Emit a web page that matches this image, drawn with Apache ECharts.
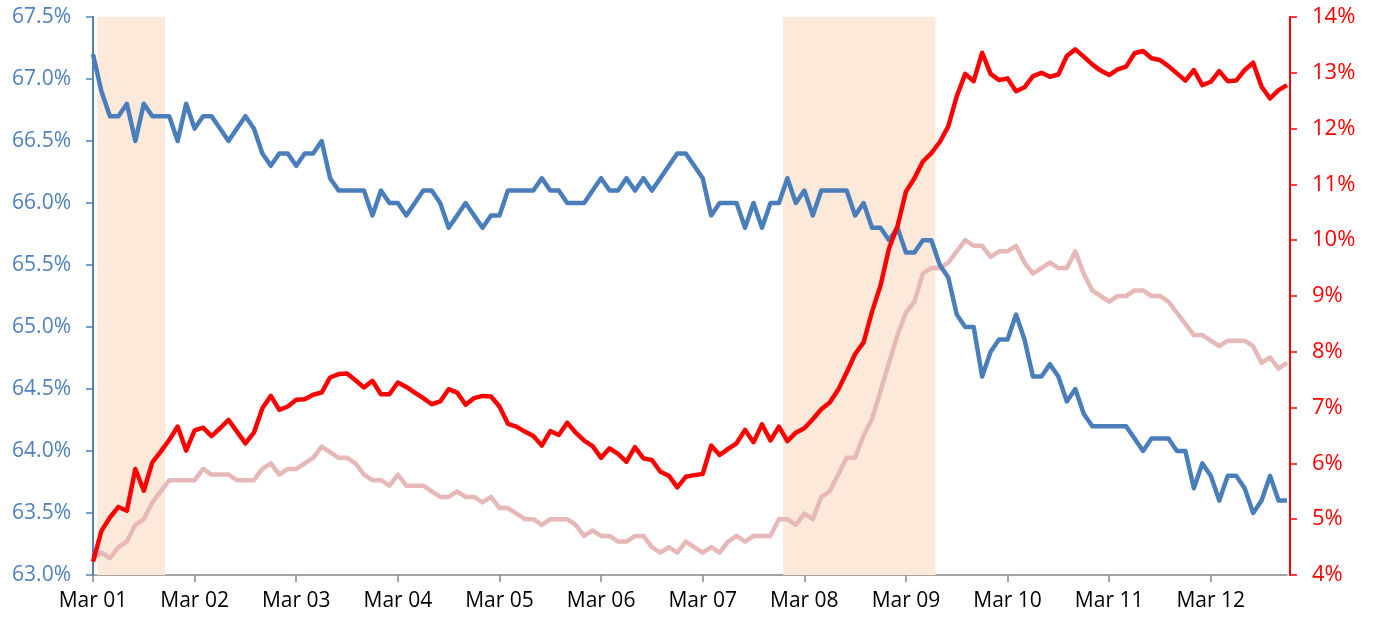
<!DOCTYPE html>
<html>
<head>
<meta charset="utf-8">
<script src="https://cdn.jsdelivr.net/npm/echarts@6/dist/echarts.min.js"></script>
<style>
  html, body { margin: 0; padding: 0; background: #ffffff; }
  #chart { width: 1374px; height: 622px; }
</style>
</head>
<body>
<div id="chart"></div>
<script>
// ---- Data (monthly, Mar 2001 - Dec 2012) ----
const monthNames = ['Jan','Feb','Mar','Apr','May','Jun','Jul','Aug','Sep','Oct','Nov','Dec'];
const firstYear = 2001;
const firstMonth = 2; // March (0-based)
const monthCount = 142;

// Participation rate, % (left axis)
const participation = [
  67.2, 66.9, 66.7, 66.7, 66.8, 66.5, 66.8, 66.7, 66.7, 66.7,
  66.5, 66.8, 66.6, 66.7, 66.7, 66.6, 66.5, 66.6, 66.7, 66.6,
  66.4, 66.3, 66.4, 66.4, 66.3, 66.4, 66.4, 66.5, 66.2, 66.1,
  66.1, 66.1, 66.1, 65.9, 66.1, 66.0, 66.0, 65.9, 66.0, 66.1,
  66.1, 66.0, 65.8, 65.9, 66.0, 65.9, 65.8, 65.9, 65.9, 66.1,
  66.1, 66.1, 66.1, 66.2, 66.1, 66.1, 66.0, 66.0, 66.0, 66.1,
  66.2, 66.1, 66.1, 66.2, 66.1, 66.2, 66.1, 66.2, 66.3, 66.4,
  66.4, 66.3, 66.2, 65.9, 66.0, 66.0, 66.0, 65.8, 66.0, 65.8,
  66.0, 66.0, 66.2, 66.0, 66.1, 65.9, 66.1, 66.1, 66.1, 66.1,
  65.9, 66.0, 65.8, 65.8, 65.7, 65.8, 65.6, 65.6, 65.7, 65.7,
  65.5, 65.4, 65.1, 65.0, 65.0, 64.6, 64.8, 64.9, 64.9, 65.1,
  64.9, 64.6, 64.6, 64.7, 64.6, 64.4, 64.5, 64.3, 64.2, 64.2,
  64.2, 64.2, 64.2, 64.1, 64.0, 64.1, 64.1, 64.1, 64.0, 64.0,
  63.7, 63.9, 63.8, 63.6, 63.8, 63.8, 63.7, 63.5, 63.6, 63.8,
  63.6, 63.6
];

// Adjusted unemployment rate, % (right axis, red)
const adjustedRate = [
  4.24, 4.79, 5.03, 5.22, 5.15, 5.90, 5.51, 6.02, 6.21, 6.42,
  6.66, 6.23, 6.59, 6.64, 6.49, 6.63, 6.78, 6.57, 6.36, 6.55,
  6.99, 7.21, 6.96, 7.02, 7.14, 7.15, 7.23, 7.27, 7.54, 7.60,
  7.61, 7.49, 7.36, 7.48, 7.24, 7.24, 7.45, 7.37, 7.27, 7.17,
  7.06, 7.11, 7.33, 7.27, 7.05, 7.17, 7.21, 7.20, 7.02, 6.71,
  6.66, 6.57, 6.49, 6.32, 6.58, 6.51, 6.73, 6.55, 6.41, 6.31,
  6.10, 6.27, 6.17, 6.03, 6.29, 6.09, 6.06, 5.85, 5.78, 5.57,
  5.76, 5.79, 5.81, 6.32, 6.15, 6.26, 6.36, 6.60, 6.38, 6.70,
  6.41, 6.66, 6.40, 6.55, 6.63, 6.79, 6.97, 7.09, 7.32, 7.63,
  7.96, 8.17, 8.72, 9.19, 9.85, 10.25, 10.87, 11.11, 11.41, 11.56,
  11.76, 12.04, 12.58, 12.98, 12.85, 13.36, 12.98, 12.87, 12.90, 12.67,
  12.74, 12.94, 13.00, 12.93, 12.97, 13.30, 13.42, 13.29, 13.15, 13.04,
  12.96, 13.06, 13.11, 13.35, 13.39, 13.26, 13.23, 13.12, 12.99, 12.86,
  13.05, 12.78, 12.84, 13.03, 12.85, 12.86, 13.05, 13.18, 12.75, 12.54,
  12.69, 12.78
];

// Official unemployment rate, % (right axis, pink)
const officialRate = [
  4.3, 4.4, 4.3, 4.5, 4.6, 4.9, 5.0, 5.3, 5.5, 5.7,
  5.7, 5.7, 5.7, 5.9, 5.8, 5.8, 5.8, 5.7, 5.7, 5.7,
  5.9, 6.0, 5.8, 5.9, 5.9, 6.0, 6.1, 6.3, 6.2, 6.1,
  6.1, 6.0, 5.8, 5.7, 5.7, 5.6, 5.8, 5.6, 5.6, 5.6,
  5.5, 5.4, 5.4, 5.5, 5.4, 5.4, 5.3, 5.4, 5.2, 5.2,
  5.1, 5.0, 5.0, 4.9, 5.0, 5.0, 5.0, 4.9, 4.7, 4.8,
  4.7, 4.7, 4.6, 4.6, 4.7, 4.7, 4.5, 4.4, 4.5, 4.4,
  4.6, 4.5, 4.4, 4.5, 4.4, 4.6, 4.7, 4.6, 4.7, 4.7,
  4.7, 5.0, 5.0, 4.9, 5.1, 5.0, 5.4, 5.5, 5.8, 6.1,
  6.1, 6.5, 6.8, 7.3, 7.8, 8.3, 8.7, 8.9, 9.4, 9.5,
  9.5, 9.6, 9.8, 10.0, 9.9, 9.9, 9.7, 9.8, 9.8, 9.9,
  9.6, 9.4, 9.5, 9.6, 9.5, 9.5, 9.8, 9.4, 9.1, 9.0,
  8.9, 9.0, 9.0, 9.1, 9.1, 9.0, 9.0, 8.9, 8.7, 8.5,
  8.3, 8.3, 8.2, 8.1, 8.2, 8.2, 8.2, 8.1, 7.8, 7.9,
  7.7, 7.8
];

// Recession months (first and last month of each shaded period)
const recessions = [['Apr 01', 'Nov 01'], ['Jan 08', 'Jun 09']];

// Axis scales
const leftMin = 63, leftMax = 67.5, leftStep = 0.5;
const rightMin = 4, rightMax = 14, rightStep = 1;
const labelEvery = 12;

// ---- Build categories ----
const categories = [];
for (let i = 0; i < monthCount; i++) {
  const m = firstMonth + i;
  const yr = (firstYear + Math.floor(m / 12)) % 100;
  categories.push(monthNames[m % 12] + ' ' + String(yr).padStart(2, '0'));
}
const recessionSpans = recessions.map(([a, b]) => [categories.indexOf(a), categories.indexOf(b)]);

const FONT = '"Open Sans", "Liberation Sans", sans-serif';
const BLUE = '#4A7EBB';
const AXBLUE = '#4F81BD';
const RED = '#FF0000';
const PINK = '#E6B9B8';
const SHADE = '#FDE9D9';

const chart = echarts.init(document.getElementById('chart'), null, { renderer: 'canvas' });
chart.setOption({
  animation: false,
  backgroundColor: '#ffffff',
  grid: { left: 93, right: 87, top: 17, bottom: 47 },
  xAxis: {
    type: 'category',
    data: categories,
    boundaryGap: false,
    axisLine: { lineStyle: { color: '#868686', width: 1.5 } },
    axisTick: { length: 7, interval: (i) => i % labelEvery === 0, lineStyle: { color: '#868686', width: 1.5 } },
    axisLabel: {
      interval: (i) => i % labelEvery === 0,
      color: '#000000', fontFamily: FONT, fontSize: 21, margin: 16
    },
    splitLine: { show: false }
  },
  yAxis: [
    {
      type: 'value', min: leftMin, max: leftMax, interval: leftStep, position: 'left',
      axisLine: { show: true, lineStyle: { color: AXBLUE, width: 2 } },
      axisTick: { show: true, length: 7, lineStyle: { color: AXBLUE, width: 1.5 } },
      axisLabel: { color: AXBLUE, fontFamily: FONT, fontSize: 21, margin: 22,
                   formatter: (v) => v.toFixed(1) + '%' },
      splitLine: { show: false }
    },
    {
      type: 'value', min: rightMin, max: rightMax, interval: rightStep, position: 'right', offset: 3,
      axisLine: { show: true, lineStyle: { color: RED, width: 2 } },
      axisTick: { show: true, length: 7, lineStyle: { color: RED, width: 1.5 } },
      axisLabel: { color: RED, fontFamily: FONT, fontSize: 22, margin: 22,
                   formatter: (v) => v + '%' },
      splitLine: { show: false }
    }
  ],
  series: [
    {
      name: 'Recession', type: 'custom', yAxisIndex: 1, data: recessionSpans,
      silent: true, z: 1,
      encode: { x: [0, 1] },
      renderItem: (params, api) => {
        const pTop = api.coord([api.value(0), rightMax]);
        const pBot = api.coord([api.value(1), rightMin]);
        const band = api.size([1, 0])[0];
        return {
          type: 'rect',
          shape: { x: pTop[0] - band / 2, y: pTop[1], width: pBot[0] - pTop[0] + band, height: pBot[1] - pTop[1] },
          style: { fill: SHADE }
        };
      }
    },
    {
      name: 'Official unemployment rate', type: 'line', yAxisIndex: 1, data: officialRate,
      symbol: 'none', z: 3, lineStyle: { color: PINK, width: 4.5, join: 'round' }
    },
    {
      name: 'Participation rate', type: 'line', yAxisIndex: 0, data: participation,
      symbol: 'none', z: 4, lineStyle: { color: BLUE, width: 4.5, join: 'round' }
    },
    {
      name: 'Adjusted unemployment rate', type: 'line', yAxisIndex: 1, data: adjustedRate,
      symbol: 'none', z: 5, lineStyle: { color: RED, width: 4.5, join: 'round' }
    }
  ]
});
</script>
</body>
</html>
